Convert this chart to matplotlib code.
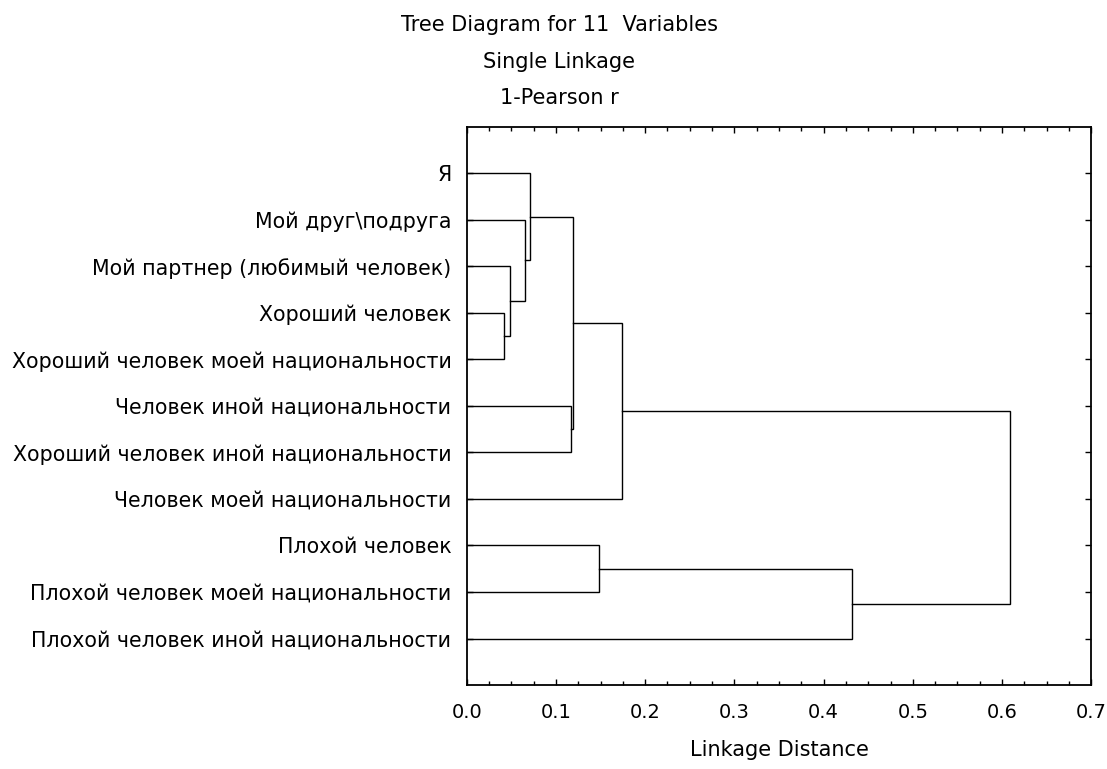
import matplotlib
matplotlib.use("Agg")
import matplotlib.pyplot as plt
from matplotlib.ticker import MultipleLocator

# leaves, top to bottom
labels = [
    "Я",
    "Мой друг\\подруга",
    "Мой партнер (любимый человек)",
    "Хороший человек",
    "Хороший человек моей национальности",
    "Человек иной национальности",
    "Хороший человек иной национальности",
    "Человек моей национальности",
    "Плохой человек",
    "Плохой человек моей национальности",
    "Плохой человек иной национальности",
]

# merges: (child a, child b) -> new node id 11, 12, ...
merge_a = [3, 2, 1, 0, 5, 14, 16, 8, 18, 17]
merge_b = [4, 11, 12, 13, 6, 15, 7, 9, 10, 19]
merge_h = [0.0415, 0.048, 0.0655, 0.071, 0.117, 0.119, 0.174, 0.148, 0.432, 0.609]

plt.rcParams["font.family"] = ["DejaVu Sans"]

fig = plt.figure(figsize=(11.07, 7.69), dpi=100)
ax = fig.add_axes([0.4216, 0.1092, 0.9858 - 0.4216, 0.8352 - 0.1092])

# node positions: (x, y)
pos = {i: (0.0, i + 1) for i in range(len(labels))}
for k, (a, b, h) in enumerate(zip(merge_a, merge_b, merge_h)):
    xa, ya = pos[a]
    xb, yb = pos[b]
    ax.plot([xa, h, h, xb], [ya, ya, yb, yb], color="black", lw=1.0,
            solid_joinstyle="miter")
    pos[len(labels) + k] = (h, (ya + yb) / 2)

ax.set_xlim(0, 0.7)
ax.set_ylim(len(labels) + 1, 0)
ax.set_yticks(range(1, len(labels) + 1))
ax.set_yticklabels(labels, fontsize=14.8)
ax.xaxis.set_major_locator(MultipleLocator(0.1))
ax.xaxis.set_minor_locator(MultipleLocator(0.025))
ax.set_xticklabels(["%.1f" % v for v in ax.get_xticks()])
ax.tick_params(axis="x", which="major", direction="in", length=4, width=1,
               top=True, labelsize=14, pad=13)
ax.tick_params(axis="x", which="minor", direction="in", length=3, width=1, top=True)
ax.tick_params(axis="y", direction="in", length=4, width=1, right=True, pad=11)
for s in ax.spines.values():
    s.set_linewidth(1.3)

ax.set_xlabel("Linkage Distance", fontsize=15, labelpad=13)

fig.text(0.505, 0.967, "Tree Diagram for 11  Variables", ha="center", va="center", fontsize=15)
fig.text(0.505, 0.920, "Single Linkage", ha="center", va="center", fontsize=15)
fig.text(0.505, 0.873, "1-Pearson r", ha="center", va="center", fontsize=15)

fig.savefig("out.png", dpi=100, facecolor="white")
